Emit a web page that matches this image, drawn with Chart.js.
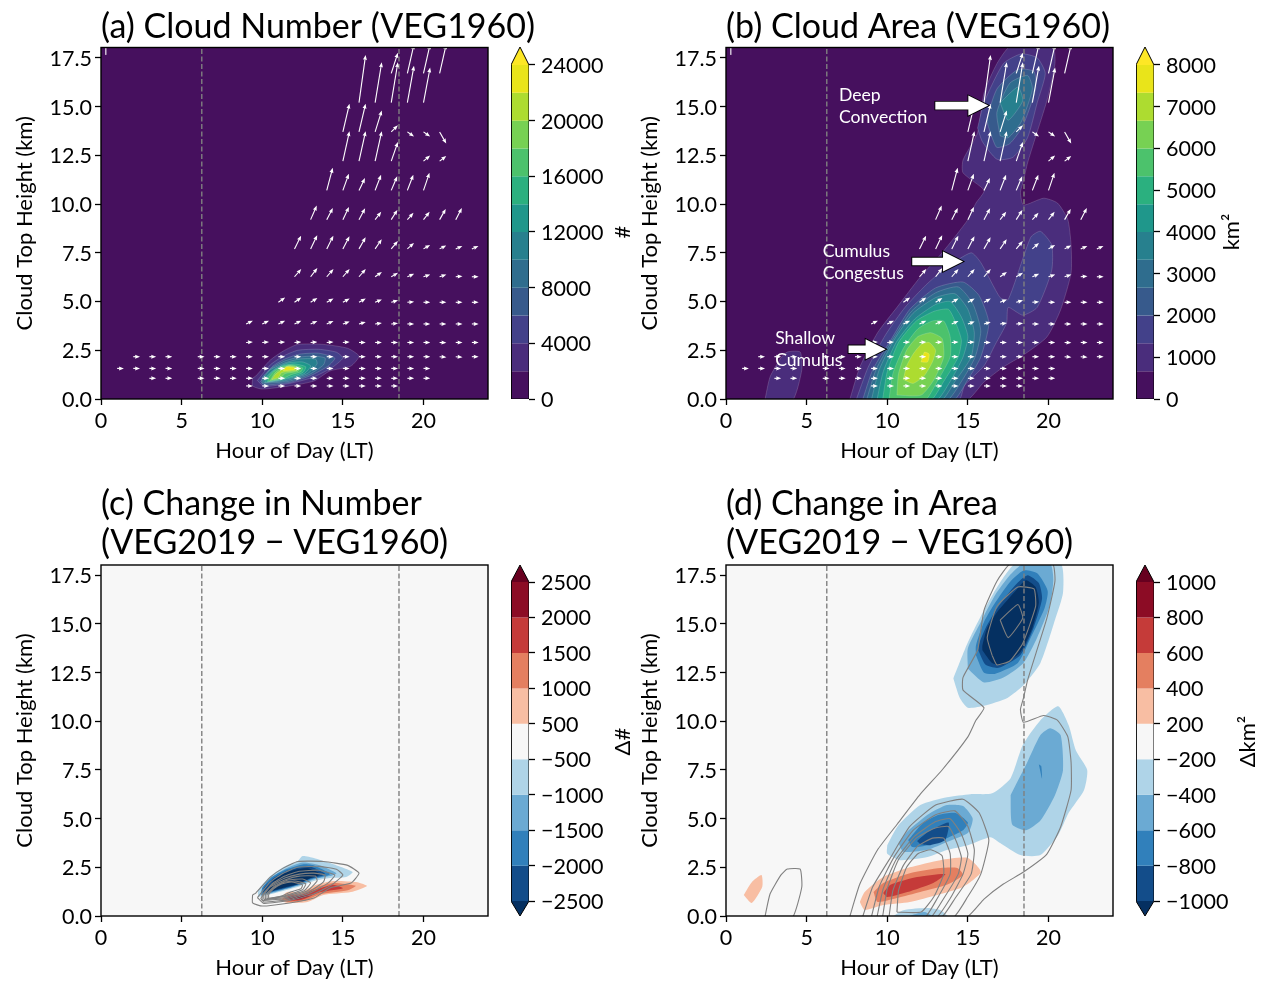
<!DOCTYPE html>
<html>
<head>
<meta charset="utf-8">
<title>Cloud Number and Area</title>
<script src="https://cdn.jsdelivr.net/npm/chart.js@4"></script>
<style>
  html, body { margin: 0; padding: 0; background: #fff; }
  #page { position: relative; width: 1263px; height: 982px; overflow: hidden; }
  canvas { position: absolute; }
</style>
</head>
<body>
<div id="page"></div>
<script>
// ---- colours per contour band ----
const viridisBands = ['#46105e', '#4a2d7c', '#43418a', '#375a8c', '#2f6d8e', '#27808e',
  '#1f978b', '#2bb07f', '#4cc26c', '#77d153', '#addc30', '#e9e41a'];
const viridisOver = '#fde725';
const redBands = ['#f8bea3', '#e47f60', '#c53b39', '#8c0c25'];
const blueBands = ['#afd4e8', '#6baad3', '#3180bb', '#134d8a'];
const neutralBand = '#f7f7f7';
const redOver = '#67001f';
const blueUnder = '#053061';

// ---- colourbar levels and tick labels ----
const numberLevels = [0, 2000, 4000, 6000, 8000, 10000, 12000, 14000, 16000, 18000, 20000, 22000, 24000];
const numberTicks = [0, 4000, 8000, 12000, 16000, 20000, 24000];
const areaLevels = [0, 666.7, 1333.3, 2000, 2666.7, 3333.3, 4000, 4666.7, 5333.3, 6000, 6666.7, 7333.3, 8000];
const areaTicks = [0, 1000, 2000, 3000, 4000, 5000, 6000, 7000, 8000];
const dNumberLabels = ['−2500', '−2000', '−1500', '−1000', '−500', '500', '1000', '1500', '2000', '2500'];
const dAreaLabels = ['−1000', '−800', '−600', '−400', '−200', '200', '400', '600', '800', '1000'];

// ---- panel (a) cloud number contours: [hour, km] ----
const numberL1 = [[[9.4,1.08],[9.4,.67],[10,.51],[11.7,.67],[13.2,.92],[14.2,1.44],[15.5,1.69],[16,2.2],[15.3,2.6],[13.8,2.8],[12.2,2.8],[11.3,2.46],[10.5,2],[9.6,1.18]]];
const numberL2 = [[[9.7,.95],[10.1,.65],[11.7,.8],[13.1,1.1],[14.3,1.6],[15,2.1],[14.6,2.4],[13.5,2.55],[12.2,2.5],[11.3,2.2],[10.5,1.75]]];
const numberL3 = [[[9.9,.9],[10.1,.72],[11.7,.85],[13,1.2],[14.1,1.7],[14.5,2.1],[13.5,2.35],[12.3,2.3],[11.4,2.05],[10.6,1.65]]];
const numberL4 = [[[10,.8],[11.6,.9],[12.9,1.25],[13.8,1.75],[13.9,2.1],[13.2,2.2],[12.3,2.15],[11.4,1.95],[10.6,1.6],[10,1.1]]];
const numberL5 = [[[10.1,.85],[11.5,.95],[12.8,1.3],[13.4,1.8],[13.3,2.05],[12.3,2.05],[11.4,1.85],[10.5,1.5],[10.1,1.1]]];
const numberL6 = [[[10.2,.85],[11.4,1],[12.6,1.3],[13,1.7],[12.5,1.9],[11.6,1.85],[10.8,1.55],[10.2,1.1]]];
const numberL7 = [[[10.3,.88],[11.3,1.02],[12.5,1.35],[12.7,1.65],[12,1.8],[11.3,1.72],[10.7,1.45],[10.3,1.1]]];
const numberL8 = [[[10.4,.9],[11.2,1.02],[11.8,1.25],[12.4,1.4],[12.5,1.6],[11.8,1.75],[11.2,1.65],[10.7,1.4],[10.4,1.1]]];
const numberL9 = [[[10.5,.95],[11.1,1.05],[11.4,1.3],[12.2,1.42],[12.3,1.6],[11.7,1.72],[11.2,1.58],[10.8,1.35]]];
const numberL10 = [[[10.6,1],[11,1.1],[11.2,1.35],[12.1,1.46],[12.2,1.6],[11.6,1.68],[11.2,1.5],[10.8,1.25]]];
const numberL11 = [[[11.3,1.45],[12,1.5],[12,1.6],[11.5,1.65]]];
const numberContours = [numberL1, numberL2, numberL3, numberL4, numberL5, numberL6, numberL7, numberL8, numberL9, numberL10, numberL11];

// ---- panel (b) cloud area contours: [hour, km] ----
const areaL1 = [
  [[7.65,-.1],[8.3,1.64],[9.4,3.4],[10.6,4.7],[12.05,6.26],[13.4,7.5],[15,9.2],[15.5,10.05],[16,10.7],[14.7,11.6],[14.7,12.26],[15.6,13.65],[16,15.7],[16.8,17.2],[17.65,18.1],[20.25,18.1],[20.4,17.2],[19.9,15.3],[19.2,13.44],[18.7,12.1],[18.45,11.2],[18.26,10.6],[18.45,9.95],[19.7,10.3],[20.56,10.05],[21.2,9.2],[21.4,7.9],[21.4,6.46],[20.75,4.57],[19.9,3.18],[18.45,2.26],[17.2,1.64],[16,.87],[14.85,-.1]],
  [[2.4,-.1],[2.73,1.13],[3.4,2.1],[3.8,2.41],[4.6,2.41],[4.7,1.49],[4.1,-.1]]
];
const areaL2 = [
  [[8.05,-.1],[8.8,1.6],[9.9,3.3],[11.1,4.7],[12.4,5.85],[13.6,6.7],[15.2,7.5],[15.8,7],[17,5.2],[17.5,5.1],[18.9,8.3],[19.5,8.6],[20.2,7.9],[20.2,6.6],[19.3,4.7],[18.4,4.3],[17.5,4.7],[17.4,3.9],[16.7,2.8],[16,1.7],[14.8,.7],[14.4,-.1]],
  [[15.6,13.9],[16,15.2],[17.2,17.2],[18.3,17.7],[19.3,17.5],[19.8,16.7],[19.3,15.2],[18.7,13.4],[17.8,12.4],[16.8,12.3],[15.9,13.2]]
];
const areaL3 = [
  [[8.45,-.1],[9.1,1.5],[10.2,3],[11.4,4.6],[13,5.7],[14.7,6],[15.7,5.3],[16.3,3.9],[15.8,2.15],[15,1],[14.05,-.1]],
  [[16.5,13.4],[16.2,14.3],[16.8,15.9],[18.1,16.9],[19.1,16.8],[19.2,15.9],[18.4,14],[17.6,13.1],[16.8,12.9]]
];
const areaL4 = [
  [[8.7,-.1],[9.3,1.5],[10.3,3],[11.5,4.5],[13,5.45],[14.4,5.75],[15.3,4.9],[15.8,3.5],[15.45,2.15],[14.6,.9],[13.65,-.1]],
  [[17,13.5],[16.8,14.7],[17.6,16.2],[18.7,16.6],[19,15.9],[18.3,14.2],[17.5,13.4]]
];
const areaL5 = [
  [[9,-.1],[9.5,1.5],[10.4,3],[11.6,4.4],[13,5.2],[14.2,5.4],[15,4.6],[15.4,3.4],[15.2,2.15],[14.2,.9],[13.3,-.1]],
  [[17,15.2],[18.1,16],[18.4,15.3],[17.5,14.3]]
];
const areaL6 = [[[9.35,-.1],[9.75,1.4],[10.55,2.9],[11.7,4.1],[13,4.85],[13.9,5],[14.6,4.2],[15,3.2],[14.7,2.15],[13.9,.9],[13,-.1]]];
const areaL7 = [[[9.7,-.1],[10,1.4],[10.7,2.9],[11.8,4],[12.9,4.5],[13.8,4.6],[14.3,3.8],[14.6,3],[14.4,2.15],[13.5,.9],[12.65,-.1]]];
const areaL8 = [[[10.1,-.1],[10.35,1.3],[11,2.6],[11.9,3.6],[12.8,4],[13.5,4],[13.9,3.2],[13.9,2.15],[13.1,.9],[12.3,-.1]]];
const areaL9 = [[[10.6,.2],[10.7,1.3],[11.2,2.5],[11.9,3.2],[12.7,3.4],[13.4,3.1],[13.5,2.15],[12.9,1],[12.1,.2]]];
const areaL10 = [[[11,1],[11.2,1.7],[11.6,2.3],[12.1,2.8],[12.6,2.9],[13,2.5],[12.8,1.9],[12.3,1.2],[11.6,.8]]];
const areaL11 = [[[12.1,1.9],[12.3,2.4],[12.6,2.3],[12.5,1.9]]];
const areaContours = [areaL1, areaL2, areaL3, areaL4, areaL5, areaL6, areaL7, areaL8, areaL9, areaL10, areaL11];

// ---- panel (c) change in number: [hour, km] ----
const dNumberNeg1 = [[[9.75,.97],[10.8,1.18],[12.2,1.49],[13.2,1.8],[14.2,1.95],[15.2,2],[15.6,2.26],[14.2,2.72],[13.2,2.98],[12.5,3.08],[12.2,2.82],[11.3,2.51],[10.5,2.05],[9.75,1.33]]];
const dNumberNeg2 = [[[9.9,1.05],[10.9,1.25],[12.2,1.55],[13.2,1.88],[14.2,2.05],[14.6,2.2],[13.6,2.6],[12.5,2.75],[11.4,2.42],[10.6,2],[10,1.4]]];
const dNumberNeg3 = [[[9.95,1.08],[10.9,1.28],[12.2,1.58],[13.1,1.9],[14.2,2.15],[13.2,2.6],[12.5,2.65],[11.5,2.4],[10.6,2],[10,1.45]]];
const dNumberNeg4 = [[[10.05,1.15],[11,1.35],[12.2,1.62],[13,1.92],[13.9,2.15],[12.9,2.55],[11.6,2.35],[10.7,1.95],[10.1,1.45]]];
const dNumberNeg5 = [[[10.2,1.2],[11.3,1.45],[12.2,1.65],[13,1.95],[13.6,2.15],[12.8,2.45],[11.7,2.3],[10.8,1.9]]];
const dNumberPos1 = [[[11,.82],[11.55,.67],[12.8,.72],[13.8,1.08],[15.5,1.23],[16.5,1.54],[15.9,1.74],[14.4,1.8],[13.3,1.59],[12.4,1.23],[11.55,1.23]]];
const dNumberPos2 = [[[11.2,.85],[11.6,.72],[12.6,.78],[13.6,1.12],[15.3,1.32],[15.8,1.55],[14.4,1.7],[13.4,1.5],[12.4,1.15],[11.6,1.12]]];
const dNumberPos3 = [[[11.4,.88],[11.8,.78],[12.5,.85],[13.5,1.2],[15,1.42],[14.4,1.6],[13.5,1.4],[12.4,1.1],[11.7,1.05]]];
const dNumberPos4 = [[[11.5,.9],[11.9,.82],[12.4,.9],[13,1.05],[12.4,1.05],[11.8,1]]];

// ---- panel (d) change in area: [hour, km] ----
const dAreaNeg1 = [
  [[14.1,12.2],[14.5,11.2],[15,10.7],[16,10.8],[17.45,11.2],[18.45,11.85],[19.5,13],[20.4,15.2],[20.9,16.6],[20.75,18.1],[17.95,18.1],[17.3,17.5],[16.6,16.6],[15.8,15.4],[15,14.06]],
  [[10,3.64],[10.7,4.67],[12.05,5.7],[13.7,6.1],[15.15,6.26],[16.5,6.3],[17.65,7.08],[18.4,8.77],[19.5,10.05],[20.6,10.77],[21.25,9.8],[21.7,8.5],[22.4,7.5],[22.2,6.46],[21.25,5.3],[20.6,4.16],[19.5,3.13],[18.25,3.13],[17,3.75],[16.4,4.05],[15,3.64],[13.7,3.39],[12.5,3.03],[10.8,2.87],[10,3.2]],
  [[10.2,-.1],[11,.3],[12.5,.41],[13.3,.3],[13.8,-.1]]
];
const dAreaNeg2 = [
  [[15,12.7],[16,12],[17.2,12.25],[18.45,13],[19.3,14.3],[20.1,16],[20.3,17.3],[20.1,18.1],[18.45,18.1],[17.6,17.5],[16.7,16.5],[15.8,15.1],[15,13.75]],
  [[10.7,3.75],[11.2,4.3],[12.5,5.2],[13.7,5.7],[14.7,5.65],[15.3,5],[15,4.26],[13.7,3.8],[12.5,3.4],[11,3.3]],
  [[17.65,6.2],[18.6,7.75],[19.5,9.3],[20.1,9.65],[20.75,9.3],[20.9,7.5],[20.4,6.2],[19.5,4.9],[18.6,4.4],[17.75,4.7]],
  [[11,-.1],[12.3,.2],[12.9,-.1]]
];
const dAreaNeg3 = [
  [[15.5,13.4],[16,12.5],[16.7,12.45],[18.1,13],[18.9,14.3],[19.75,15.8],[19.95,16.7],[19.3,17.6],[18.45,17.75],[17.6,17.15],[16.7,16.1],[16,15.1],[15.5,13.9]],
  [[11.3,3.9],[12.2,4.77],[13.2,5.2],[14.2,5.3],[15,4.8],[14.7,4.4],[13.7,4],[12.5,3.64],[11.55,3.54]],
  [[19.4,7.8],[19.55,7.7],[19.6,7.05]]
];
const dAreaNeg4 = [
  [[15.65,13.65],[16.1,12.9],[16.9,12.75],[18.25,13.4],[19.07,14.8],[19.6,16.3],[19.4,17.1],[18.7,17.5],[17.95,17],[16.85,15.85],[16.1,14.8],[15.7,14]],
  [[11.85,3.85],[12.5,4.3],[13.8,4.8],[13.6,3.9],[12.67,3.64],[12.05,3.7]]
];
const dAreaNeg5 = [[[15.9,13.65],[16.5,13],[17.15,12.9],[18.25,13.55],[19,14.8],[19.4,16.1],[19.2,16.9],[18.6,17.25],[17.95,16.7],[16.9,15.7],[16.2,14.8],[15.9,13.9]]];
const dAreaPos1 = [
  [[8.3,.72],[8.6,1.23],[9.75,2],[11.4,2.5],[13.3,2.87],[15,2.98],[15.8,2.26],[14.7,1.49],[13.1,1.08],[11.4,.72],[9.75,.56],[8.6,.31]],
  [[1.1,1.08],[1.6,1.74],[2.2,2.1],[2.25,1.5],[1.6,.67]]
];
const dAreaPos2 = [[[9.15,1.23],[9.75,1.7],[11.4,2.2],[13.3,2.46],[14.35,2.46],[14.7,2.1],[13.7,1.6],[12.05,1.23],[10.6,.92],[9.4,.72]]];
const dAreaPos3 = [[[9.75,1.18],[10.2,1.6],[11.85,2],[13.6,2.15],[12.85,1.7],[11.25,1.23],[10,.97]]];

// ---- wind arrows: tail km per row, tail hours, and components ----
const arrowRowKm = [.67, 1.06, 1.57, 2.17, 2.9, 3.85, 4.96, 6.27, 7.7, 9.2, 10.7, 12.2, 13.7, 15.2, 16.7, 17.65];
const arrowHours = [
  [9,10,11,12,13,14,15,16,17,18],
  [3,4,6,7,8,9,10,11,12,13,14,15,16,17,18,19,20],
  [1,2,3,4,6,7,8,9,10,11,12,13,14,15,16,17,18,19,20],
  [2,3,4,6,7,8,9,10,11,12,13,14,15,16,17,18,19,20,21,22,23],
  [9,10,11,12,13,14,15,16,17,18,19,20,21,22,23],
  [9,10,11,12,13,14,15,16,17,18,19,20,21,22,23],
  [11,12,13,14,15,16,17,18,19,20,21,22,23],
  [12,13,14,15,16,17,18,19,20,21,22,23],
  [12,13,14,15,16,17,18,19,20,21,22,23],
  [13,14,15,16,17,18,19,20,21,22],
  [14,15,16,17,18,19,20],
  [15,16,17,18,20,21],
  [15,16,17,18,19,20,21],
  [16,17,18,19,20],
  [18,19,20,21],
  [.3]
];
const arrowV = [
  [0,0,0,0,0,0,0,0,0,0],
  [0,0,0,0,0,0,0,0,0,0,0,0,0,0,0,0,0],
  [0,0,0,0,0,0,0,0,0,0,0,0,0,0,0,0,0,0,0],
  [0,0,0,0,0,0,0,0,0,0,0,0,0,0,0,0,0,0,-.03,-.03,0],
  [.03,.03,.03,.03,.03,.03,.02,0,0,0,0,0,-.02,0,0],
  [.17,.17,.17,.17,.15,.15,.12,.1,.05,.03,0,0,0,0,0],
  [.25,.25,.22,.2,.2,.2,.15,.1,.03,0,0,0,0],
  [.4,.45,.4,.4,.4,.25,.2,.15,.12,.12,.03,0],
  [.68,.7,.68,.65,.6,.5,.4,.3,.2,.18,.15,.15],
  [.72,.6,.65,.58,.4,.5,.35,.4,.55,.6],
  [1.16,.85,.63,.8,.72,.8,.9],
  [1.54,1.54,1.54,.98,.29,.26],
  [1.45,1.45,1.1,.34,-.24,-.24,-.6],
  [2.45,2.07,2.07,1.9,1.8],
  [1.06,1.5,1.5,1.5],
  [.9]
];
const arrowU = [.42, .42, .42, .42, .42, .42, .42, .42, .41, .38, .37, .41, .41, .41, .41, 0];

// ---- panel (b) annotations ----
const noteLines = ['Deep', 'Convection', 'Cumulus', 'Congestus', 'Shallow', 'Cumulus'];
const noteHour = [7.0, 7.0, 6.0, 6.0, 3.05, 3.05];
const noteKm = [15.6, 14.47, 7.6, 6.47, 3.1, 1.97];
const bigArrowHour = [12.98, 11.55, 7.6];
const bigArrowTip = [16.27, 14.7, 9.9];
const bigArrowKm = [15.05, 7.05, 2.55];

const sunrise = 6.25;
const sunset = 18.48;
const hourMax = 24;
const kmMax = 18.03;

const fontFamily = 'Lato';
const tickSize = 21.5;
const labelSize = 22;
Chart.defaults.font.family = fontFamily;
Chart.defaults.color = '#000';

function closed(poly) {
  const pts = poly.map(p => ({x: p[0], y: p[1]}));
  pts.push({x: poly[0][0], y: poly[0][1]});
  return pts;
}

function band(poly, color, edge) {
  return {data: closed(poly), showLine: true, fill: 'shape', backgroundColor: color,
    borderColor: edge || color, borderWidth: edge ? 0.6 : 0, pointRadius: 0, tension: 0.2};
}

function outline(poly, color) {
  return {data: closed(poly), showLine: true, fill: false, borderColor: color,
    borderWidth: 1.1, pointRadius: 0, tension: 0.15};
}

function backdrop(color) {
  return {data: closed([[0,0],[hourMax,0],[hourMax,kmMax],[0,kmMax]]), showLine: true, fill: 'shape',
    backgroundColor: color, borderWidth: 0, pointRadius: 0};
}

function dashed(hour) {
  return {data: [{x: hour, y: 0}, {x: hour, y: kmMax}], showLine: true, borderColor: '#808080',
    borderWidth: 1.4, borderDash: [5, 2.5], pointRadius: 0};
}

function arrowTails() {
  const pts = [];
  arrowRowKm.forEach((km, r) => {
    arrowHours[r].forEach((h, i) => pts.push({x: h, y: km, u: arrowU[r], v: arrowV[r][i]}));
  });
  return {arrowSet: true, data: pts, pointRadius: 0, showLine: false};
}

// quiver arrows, big pointer arrows and notes are all placed through the chart scales
const quiverPlugin = {
  id: 'quiver',
  afterDatasetsDraw(chart) {
    const ctx = chart.ctx, a = chart.chartArea, xs = chart.scales.x, ys = chart.scales.y;
    ctx.save();
    ctx.beginPath();
    ctx.rect(a.left, a.top, a.right - a.left, a.bottom - a.top);
    ctx.clip();
    chart.data.datasets.forEach(ds => {
      if (!ds.arrowSet) return;
      ds.data.forEach(p => {
        const x0 = xs.getPixelForValue(p.x), y0 = ys.getPixelForValue(p.y);
        const x1 = xs.getPixelForValue(p.x + p.u), y1 = ys.getPixelForValue(p.y + p.v);
        const ang = Math.atan2(y1 - y0, x1 - x0);
        ctx.save();
        ctx.translate(x0, y0);
        ctx.rotate(ang);
        const len = Math.hypot(x1 - x0, y1 - y0);
        ctx.fillStyle = '#fff';
        ctx.fillRect(0, -0.55, len - 4, 1.1);
        ctx.beginPath();
        ctx.moveTo(len, 0);
        ctx.lineTo(len - 5, -2);
        ctx.lineTo(len - 4.5, 0);
        ctx.lineTo(len - 5, 2);
        ctx.closePath();
        ctx.fill();
        ctx.restore();
      });
    });
    ctx.restore();
  }
};

const notesPlugin = {
  id: 'notes',
  afterDatasetsDraw(chart) {
    const ctx = chart.ctx, xs = chart.scales.x, ys = chart.scales.y;
    ctx.save();
    bigArrowHour.forEach((h, i) => {
      const x0 = xs.getPixelForValue(h), x1 = xs.getPixelForValue(bigArrowTip[i]);
      const y = ys.getPixelForValue(bigArrowKm[i]);
      const neck = x1 - 20;
      ctx.beginPath();
      ctx.moveTo(x0, y - 3.8);
      ctx.lineTo(neck, y - 3.8);
      ctx.lineTo(neck, y - 10);
      ctx.lineTo(x1, y);
      ctx.lineTo(neck, y + 10);
      ctx.lineTo(neck, y + 3.8);
      ctx.lineTo(x0, y + 3.8);
      ctx.closePath();
      ctx.fillStyle = '#fff';
      ctx.strokeStyle = '#000';
      ctx.lineWidth = 1.8;
      ctx.stroke();
      ctx.fill();
    });
    ctx.fillStyle = '#fff';
    ctx.font = '17.6px ' + fontFamily;
    ctx.textBaseline = 'middle';
    noteLines.forEach((t, i) => {
      ctx.fillText(t, xs.getPixelForValue(noteHour[i]), ys.getPixelForValue(noteKm[i]));
    });
    ctx.restore();
  }
};

const framePlugin = {
  id: 'frame',
  afterDraw(chart) {
    const a = chart.chartArea, ctx = chart.ctx;
    ctx.save();
    ctx.strokeStyle = '#000';
    ctx.lineWidth = 1.4;
    ctx.strokeRect(a.left, a.top, a.right - a.left, a.bottom - a.top);
    ctx.restore();
  }
};

// the title box is only as wide as the plot, which would squeeze the long titles
const wideTitlePlugin = {
  id: 'wideTitle',
  beforeDraw(chart) {
    chart.titleBlock.right = chart.titleBlock.left + 459;
  }
};

// Lato digits sit a little high on the middle baseline, move y tick labels down a pixel
const nudgePlugin = {
  id: 'nudge',
  beforeDraw(chart) {
    chart.scales.y.getLabelItems().forEach(item => {
      if (!item.nudged) {
        item.options.translation[1] += 1;
        item.nudged = true;
      }
    });
  }
};

const barLabelPlugin = {
  id: 'barLabel',
  afterDraw(chart, args, opts) {
    const a = chart.chartArea, ctx = chart.ctx;
    ctx.save();
    ctx.translate(a.right + opts.offset, (chart.scales.y.getPixelForValue(opts.mid)));
    ctx.rotate(-Math.PI / 2);
    ctx.fillStyle = '#000';
    ctx.font = labelSize + 'px ' + fontFamily;
    ctx.textAlign = 'center';
    ctx.textBaseline = 'middle';
    ctx.fillText(opts.text, 0, 0);
    ctx.restore();
  }
};

function addCanvas(left, top, width, height) {
  const c = document.createElement('canvas');
  c.width = width;
  c.height = height;
  c.style.left = left + 'px';
  c.style.top = top + 'px';
  c.style.width = width + 'px';
  c.style.height = height + 'px';
  document.getElementById('page').appendChild(c);
  return c;
}

function panel(left, top, height, xAxisHeight, titleLines, titlePad, datasets, plugins) {
  const canvas = addCanvas(left, top, 565, height);
  new Chart(canvas, {
    type: 'scatter',
    data: {datasets: datasets.slice().reverse()},
    options: {
      responsive: false,
      animation: false,
      events: [],
      layout: {padding: {right: 77}},
      plugins: {
        legend: {display: false},
        tooltip: {enabled: false},
        title: {display: true, text: titleLines, align: 'start', fullSize: false, color: '#000',
          font: {size: 34, weight: 'normal', lineHeight: 1.147}, padding: titlePad}
      },
      scales: {
        x: {
          type: 'linear', min: 0, max: hourMax,
          afterFit: s => { s.height = xAxisHeight; },
          border: {display: false},
          grid: {drawOnChartArea: false, tickLength: 6, tickColor: '#000', tickWidth: 1.3},
          ticks: {stepSize: 5, includeBounds: false, maxRotation: 0, padding: 3.5, font: {size: tickSize}, color: '#000'},
          title: {display: true, text: 'Hour of Day (LT)', color: '#000', font: {size: labelSize, lineHeight: 1.2},
            padding: {top: 0, bottom: xAxisHeight - 65.2}}
        },
        y: {
          type: 'linear', min: 0, max: kmMax,
          afterFit: s => { s.width = 101; },
          border: {display: false},
          grid: {drawOnChartArea: false, tickLength: 6, tickColor: '#000', tickWidth: 1.3},
          ticks: {stepSize: 2.5, includeBounds: false, padding: 3, font: {size: tickSize}, color: '#000',
            callback: v => v.toFixed(1)},
          title: {display: true, text: 'Cloud Top Height (km)', color: '#000', font: {size: labelSize, lineHeight: 1.2},
            padding: {top: 11.8, bottom: 0}}
        }
      }
    },
    plugins: plugins.concat([wideTitlePlugin, framePlugin, nudgePlugin])
  });
}

function colourbar(left, top, height, padTop, datasets, yMin, yMax, tickValues, tickText, label, labelOffset, labelMid) {
  const canvas = addCanvas(left, top, 130, height);
  new Chart(canvas, {
    type: 'scatter',
    data: {datasets: datasets.slice().reverse()},
    options: {
      responsive: false,
      animation: false,
      events: [],
      layout: {padding: {left: 6, top: padTop, bottom: 16, right: 6}},
      plugins: {
        legend: {display: false},
        tooltip: {enabled: false},
        barLabel: {text: label, offset: labelOffset, mid: labelMid}
      },
      scales: {
        x: {type: 'linear', min: 0, max: 1, display: false},
        y: {
          type: 'linear', position: 'right', min: yMin, max: yMax,
          afterFit: s => { s.width = 100; s.paddingTop = 0; s.paddingBottom = 0; },
          afterBuildTicks: s => { s.ticks = tickValues.map(v => ({value: v})); },
          border: {display: false},
          grid: {drawOnChartArea: false, tickLength: 6, tickColor: '#000', tickWidth: 1.3},
          ticks: {autoSkip: false, padding: 6, font: {size: tickSize}, color: '#000', callback: tickText}
        }
      }
    },
    plugins: [barLabelPlugin, nudgePlugin]
  });
}

function barCell(lo, hi, color) {
  return {data: [{x:0,y:lo},{x:1,y:lo},{x:1,y:hi},{x:0,y:hi},{x:0,y:lo}], showLine: true, fill: 'shape',
    backgroundColor: color, borderWidth: 0, pointRadius: 0};
}

function barTip(base, apex, color) {
  return {data: [{x:0,y:base},{x:1,y:base},{x:.5,y:apex},{x:0,y:base}], showLine: true, fill: 'shape',
    backgroundColor: color, borderWidth: 0, pointRadius: 0};
}

function barOutline(points) {
  return {data: points, showLine: true, fill: false, borderColor: '#000', borderWidth: 1, pointRadius: 0};
}

function levelBar(levels, over, top) {
  const ds = [];
  viridisBands.forEach((c, i) => ds.push(barCell(levels[i], levels[i + 1], c)));
  ds.push(barTip(levels[12], top, over));
  ds.push(barOutline([{x:0,y:levels[0]},{x:1,y:levels[0]},{x:1,y:levels[12]},{x:.5,y:top},{x:0,y:levels[12]},{x:0,y:levels[0]}]));
  return ds;
}

function divergingBar() {
  const colours = blueBands.slice().reverse().concat([neutralBand], redBands);
  const ds = colours.map((c, i) => barCell(i, i + 1, c));
  ds.push(barTip(0, -0.42, blueUnder));
  ds.push(barTip(9, 9.48, redOver));
  ds.push(barOutline([{x:0,y:0},{x:.5,y:-0.42},{x:1,y:0},{x:1,y:9},{x:.5,y:9.48},{x:0,y:9},{x:0,y:0}]));
  return ds;
}

// ---- panel (a) ----
const dsA = [backdrop(viridisBands[0])];
numberContours.forEach((level, i) => level.forEach(p => dsA.push(band(p, viridisBands[i + 1], 'rgba(255,255,255,0.28)'))));
dsA.push(dashed(sunrise), dashed(sunset), arrowTails());
panel(0, 0, 470, 71, '(a) Cloud Number (VEG1960)', {top: 7.5, bottom: 1}, dsA, [quiverPlugin]);
colourbar(505, 0, 415, 47, levelBar(numberLevels, viridisOver, 25293), 0, 25293, numberTicks,
  v => String(v), '#', 94, 12000);

// ---- panel (b) ----
const dsB = [backdrop(viridisBands[0])];
areaContours.forEach((level, i) => level.forEach(p => dsB.push(band(p, viridisBands[i + 1], 'rgba(255,255,255,0.28)'))));
dsB.push(dashed(sunrise), dashed(sunset), arrowTails());
panel(625, 0, 470, 71, '(b) Cloud Area (VEG1960)', {top: 7.5, bottom: 1}, dsB, [quiverPlugin, notesPlugin]);
colourbar(1130, 0, 415, 47, levelBar(areaLevels, viridisOver, 8431), 0, 8431, areaTicks,
  v => String(v), 'km²', 78, 4000);

// ---- panel (c) ----
const dsC = [backdrop(neutralBand)];
[[dNumberNeg1, blueBands[0]], [dNumberNeg2, blueBands[1]], [dNumberNeg3, blueBands[2]], [dNumberNeg4, blueBands[3]], [dNumberNeg5, blueUnder],
 [dNumberPos1, redBands[0]], [dNumberPos2, redBands[1]], [dNumberPos3, redBands[2]], [dNumberPos4, redBands[3]]]
  .forEach(pair => pair[0].forEach(p => dsC.push(band(p, pair[1]))));
numberContours.slice(0, 8).forEach(level => level.forEach(p => dsC.push(outline(p, '#808080'))));
dsC.push(dashed(sunrise), dashed(sunset));
panel(0, 478, 504, 66, ['(c) Change in Number', '(VEG2019 − VEG1960)'], {top: 6.5, bottom: 2.5}, dsC, []);
colourbar(505, 549, 383, 16, divergingBar(), -0.42, 9.48, [0,1,2,3,4,5,6,7,8,9],
  v => dNumberLabels[Math.round(v)], 'Δ#', 94, 4.5);

// ---- panel (d) ----
const dsD = [backdrop(neutralBand)];
[[dAreaNeg1, blueBands[0]], [dAreaNeg2, blueBands[1]], [dAreaNeg3, blueBands[2]], [dAreaNeg4, blueBands[3]], [dAreaNeg5, blueUnder],
 [dAreaPos1, redBands[0]], [dAreaPos2, redBands[1]], [dAreaPos3, redBands[2]]]
  .forEach(pair => pair[0].forEach(p => dsD.push(band(p, pair[1]))));
[areaL1, areaL3, areaL5, areaL6, areaL7, areaL8, areaL9].forEach(level => level.forEach(p => dsD.push(outline(p, '#808080'))));
dsD.push(dashed(sunrise), dashed(sunset));
panel(625, 478, 504, 66, ['(d) Change in Area', '(VEG2019 − VEG1960)'], {top: 6.5, bottom: 2.5}, dsD, []);
colourbar(1130, 549, 383, 16, divergingBar(), -0.42, 9.48, [0,1,2,3,4,5,6,7,8,9],
  v => dAreaLabels[Math.round(v)], 'Δkm²', 94, 4.5);
</script>
</body>
</html>
